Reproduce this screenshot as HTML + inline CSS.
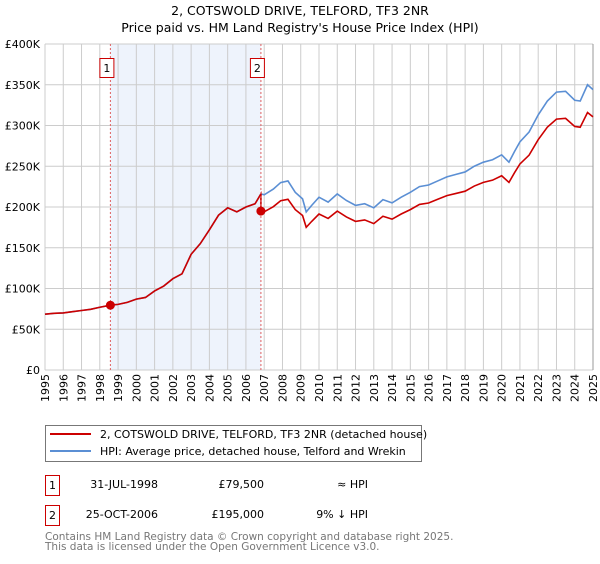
<!DOCTYPE html>
<html><head><meta charset="utf-8"><style>
html,body{margin:0;padding:0;background:#fff;}
body{width:600px;height:560px;overflow:hidden;font-family:"DejaVu Sans","Liberation Sans",sans-serif;}
</style></head><body>
<svg id="chart" width="600" height="560" xmlns="http://www.w3.org/2000/svg" font-family="DejaVu Sans, Liberation Sans, sans-serif">
<text x="300" y="15" text-anchor="middle" font-size="12.5">2, COTSWOLD DRIVE, TELFORD, TF3 2NR</text>
<text x="300" y="32" text-anchor="middle" font-size="12.5">Price paid vs. HM Land Registry's House Price Index (HPI)</text>
<g id="grid"></g>
<g id="marks"></g>
<g id="axes"></g>
<g>
<rect x="45.5" y="425.5" width="376" height="36" fill="#fff" stroke="#777"/>
<line x1="50" y1="434" x2="91" y2="434" stroke="#cc0000" stroke-width="2"/>
<text x="100" y="438" font-size="11">2, COTSWOLD DRIVE, TELFORD, TF3 2NR (detached house)</text>
<line x1="50" y1="451" x2="91" y2="451" stroke="#5b8fd4" stroke-width="2"/>
<text x="100" y="455" font-size="11">HPI: Average price, detached house, Telford and Wrekin</text>
</g>
<g font-size="11">
<rect x="45.5" y="475.5" width="14" height="20" fill="#fff" stroke="#cc0000"/>
<text x="52.5" y="489" text-anchor="middle">1</text>
<text x="158" y="488" text-anchor="end">31-JUL-1998</text>
<text x="264" y="488" text-anchor="end">£79,500</text>
<text x="368" y="488" text-anchor="end">≈ HPI</text>
<rect x="45.5" y="505.5" width="14" height="20" fill="#fff" stroke="#cc0000"/>
<text x="52.5" y="519" text-anchor="middle">2</text>
<text x="158" y="518" text-anchor="end">25-OCT-2006</text>
<text x="264" y="518" text-anchor="end">£195,000</text>
<text x="368" y="518" text-anchor="end">9% ↓ HPI</text>
</g>
<text x="45" y="540" font-size="10.5" fill="#777">Contains HM Land Registry data © Crown copyright and database right 2025.</text>
<text x="45" y="550" font-size="10.5" fill="#777">This data is licensed under the Open Government Licence v3.0.</text>
</svg>
<script>
const years=[1995,1996,1997,1998,1999,2000,2001,2002,2003,2004,2005,2006,2007,2008,2009,2010,2011,2012,2013,2014,2015,2016,2017,2018,2019,2020,2021,2022,2023,2024,2025];
const yTicks=[0,50000,100000,150000,200000,250000,300000,350000,400000];
const yTickLabels=["£0","£50K","£100K","£150K","£200K","£250K","£300K","£350K","£400K"];
const hpiDates=[1995,1995.5,1996,1996.5,1997,1997.5,1998,1998.58,1999,1999.5,2000,2000.5,2001,2001.5,2002,2002.5,2003,2003.5,2004,2004.5,2005,2005.5,2006,2006.5,2006.82,2007,2007.5,2007.9,2008.3,2008.7,2009.1,2009.3,2009.6,2010,2010.5,2011,2011.5,2012,2012.5,2013,2013.5,2014,2014.5,2015,2015.5,2016,2016.5,2017,2017.5,2018,2018.5,2019,2019.5,2020,2020.4,2020.7,2021,2021.5,2022,2022.5,2023,2023.5,2024,2024.3,2024.7,2025];
const hpiValues=[68500,69500,70000,71500,73000,74500,77000,79500,80500,83000,87000,89000,97000,103000,112000,118000,142000,155000,172000,190000,199000,194000,200000,204000,216000,215000,222000,230000,232000,218000,210000,194000,202000,212000,206000,216000,208000,202000,204000,199000,209000,205000,212000,218000,225000,227000,232000,237000,240000,243000,250000,255000,258000,264000,255000,268000,280000,292000,313000,330000,341000,342000,331000,330000,350000,344000];
const saleDates=[1998.58,2006.82];
const salePrices=[79500,195000];
const saleLabels=["1","2"];

const X0=45,X1=593,Y0=370,Y1=44;
const sx=t=>X0+(t-1995)/(2025-1995)*(X1-X0);
const sy=v=>Y0-v/400000*(Y0-Y1);
const NS="http://www.w3.org/2000/svg";
function mk(tag,attrs,parent){const e=document.createElementNS(NS,tag);for(const k in attrs)e.setAttribute(k,attrs[k]);parent.appendChild(e);return e;}
const grid=document.getElementById('grid'),marks=document.getElementById('marks'),axes=document.getElementById('axes');
const sh=mk('rect',{x:sx(saleDates[0]),y:Y1,width:sx(saleDates[1])-sx(saleDates[0]),height:Y0-Y1,fill:'#eef3fc'},grid);


years.forEach(y=>{const l=mk('line',{x1:sx(y),x2:sx(y),y1:Y1,y2:Y0,stroke:'#cccccc','stroke-width':1},grid);


const t=mk('text',{x:0,y:0,'font-size':11,'text-anchor':'end',transform:`translate(${sx(y)+4},${Y0+4}) rotate(-90)`},axes);


t.textContent=y;});
yTicks.forEach((v,i)=>{const l=mk('line',{x1:X0,x2:X1,y1:sy(v),y2:sy(v),stroke:'#cccccc','stroke-width':1},grid);


const t=mk('text',{x:40,y:sy(v)+4,'font-size':11,'text-anchor':'end'},axes);


t.textContent=yTickLabels[i];});
const rb=mk('line',{x1:X1,x2:X1,y1:Y1,y2:Y0,stroke:'#999','stroke-width':1},grid);


function hpiAt(t){for(let i=0;i<hpiDates.length-1;i++){if(t>=hpiDates[i]&&t<=hpiDates[i+1]){const f=(t-hpiDates[i])/(hpiDates[i+1]-hpiDates[i]);return hpiValues[i]+f*(hpiValues[i+1]-hpiValues[i]);}}return hpiValues[hpiValues.length-1];}
const hp=mk('polyline',{points:hpiDates.map((d,i)=>sx(d)+','+sy(hpiValues[i])).join(' '),fill:'none',stroke:'#5b8fd4','stroke-width':1.6},marks);


const pts=[];
hpiDates.forEach((d,i)=>{let k=d<saleDates[1]?0:1;const r=salePrices[k]/hpiAt(saleDates[k]);
if(i>0&&hpiDates[i-1]<saleDates[1]&&d>=saleDates[1]){pts.push(sx(saleDates[1])+','+sy(hpiAt(saleDates[1])*salePrices[0]/hpiAt(saleDates[0])));}
pts.push(sx(d)+','+sy(hpiValues[i]*r));});
const pl=mk('polyline',{points:pts.join(' '),fill:'none',stroke:'#cc0000','stroke-width':1.6},marks);


saleDates.forEach((d,i)=>{
const vl=mk('line',{x1:sx(d),x2:sx(d),y1:Y1,y2:Y0,stroke:'#e06060','stroke-width':1,'stroke-dasharray':'2,2'},marks);


const c=mk('circle',{cx:sx(d),cy:sy(salePrices[i]),r:4.5,fill:'#cc0000'},marks);


const b=mk('rect',{x:sx(d)-10.5,y:58.5,width:14,height:19,fill:'#fff',stroke:'#cc0000'},marks);


const t=mk('text',{x:sx(d)-3.5,y:72,'font-size':11,'text-anchor':'middle'},marks);


t.textContent=saleLabels[i];});
</script>
</body></html>
